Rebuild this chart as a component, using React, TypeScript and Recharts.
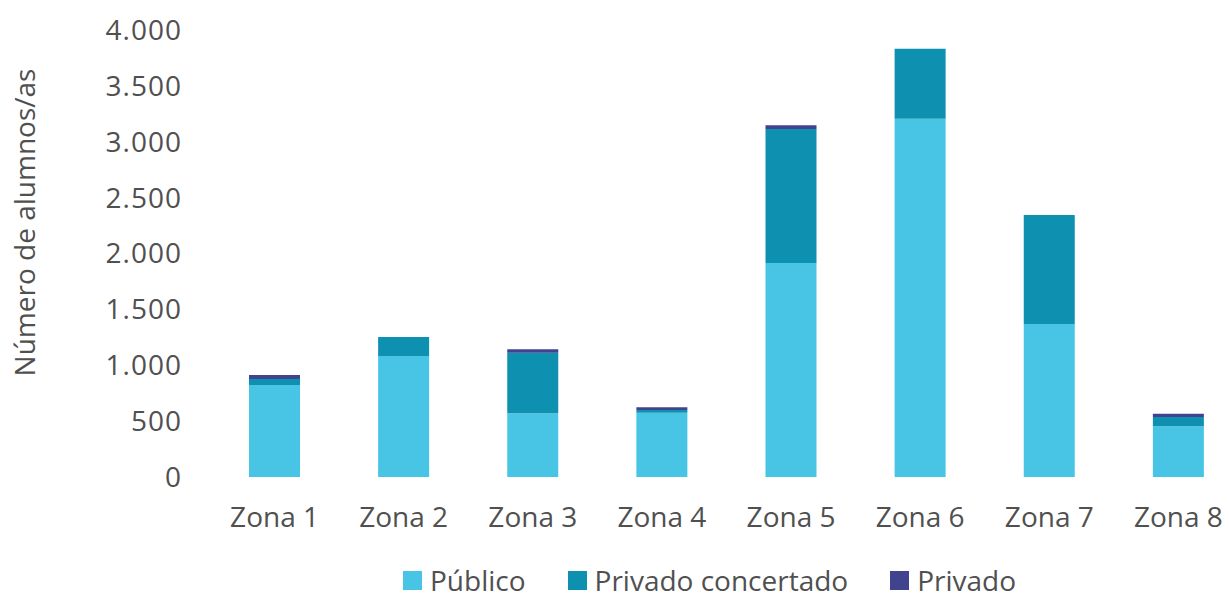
import { BarChart, Bar, XAxis, YAxis, Legend, Label } from "recharts"

const zonas = ["Zona 1", "Zona 2", "Zona 3", "Zona 4", "Zona 5", "Zona 6", "Zona 7", "Zona 8"]
const publico = [823, 1083, 570, 575, 1915, 3205, 1370, 454]
const concertado = [55, 170, 542, 25, 1200, 628, 975, 83]
const privado = [35, 0, 31, 25, 33, 0, 0, 30]
const yTicks = [0, 500, 1000, 1500, 2000, 2500, 3000, 3500, 4000]

const series = [
    { key: "publico", name: "Público", color: "#48C5E4" },
    { key: "concertado", name: "Privado concertado", color: "#0E91B0" },
    { key: "privado", name: "Privado", color: "#41438F" },
]

const data = zonas.map((z, i) => ({
    zona: z,
    publico: publico[i],
    concertado: concertado[i],
    privado: privado[i],
}))

const font = "'Open Sans', sans-serif"
const textColor = "#505050"

const fmtTick = (v: number) => (v >= 1000 ? `${Math.floor(v / 1000)}.${String(v % 1000).padStart(3, "0")}` : String(v))

function MyLegend() {
    return (
        <div style={{ display: "flex", boxSizing: "border-box", height: 48, paddingTop: 6, alignItems: "center", paddingLeft: 403, fontFamily: font, fontSize: 28, lineHeight: 1, color: textColor }}>
            {series.map((s) => (
                <div key={s.key} style={{ display: "flex", alignItems: "center", marginRight: 42 }}>
                    <span style={{ width: 19, height: 19, background: s.color, display: "inline-block", marginRight: 8 }} />
                    <span>{s.name}</span>
                </div>
            ))}
        </div>
    )
}

export default function App() {
    return (
        <div style={{ position: "absolute", left: 0, top: 0, width: 1229, height: 601, overflow: "hidden", background: "#fff" }}>
            <BarChart width={1260} height={601} data={data} margin={{ top: 30, right: 17, bottom: 0, left: 0 }} barSize={51}>
                <XAxis dataKey="zona" axisLine={false} tickLine={false} tickSize={0} tickMargin={30} height={76}
                    tick={{ fontFamily: font, fontSize: 28, fill: textColor }} interval={0} />
                <YAxis domain={[0, 4000]} ticks={yTicks} axisLine={false} tickLine={false} tickSize={0} tickMargin={28}
                    width={210} tickFormatter={fmtTick} tick={{ fontFamily: font, fontSize: 28, fill: textColor, letterSpacing: 1 }}>
                    <Label value="Número de alumnos/as" angle={-90} position="insideLeft" dx={20} dy={-31}
                        style={{ fontFamily: font, fontSize: 28, fill: textColor, textAnchor: "middle" }} />
                </YAxis>
                <Legend verticalAlign="bottom" content={() => <MyLegend />} />
                {series.map((s) => (
                    <Bar key={s.key} dataKey={s.key} name={s.name} stackId="a" fill={s.color} isAnimationActive={false} />
                ))}
            </BarChart>
        </div>
    )
}
